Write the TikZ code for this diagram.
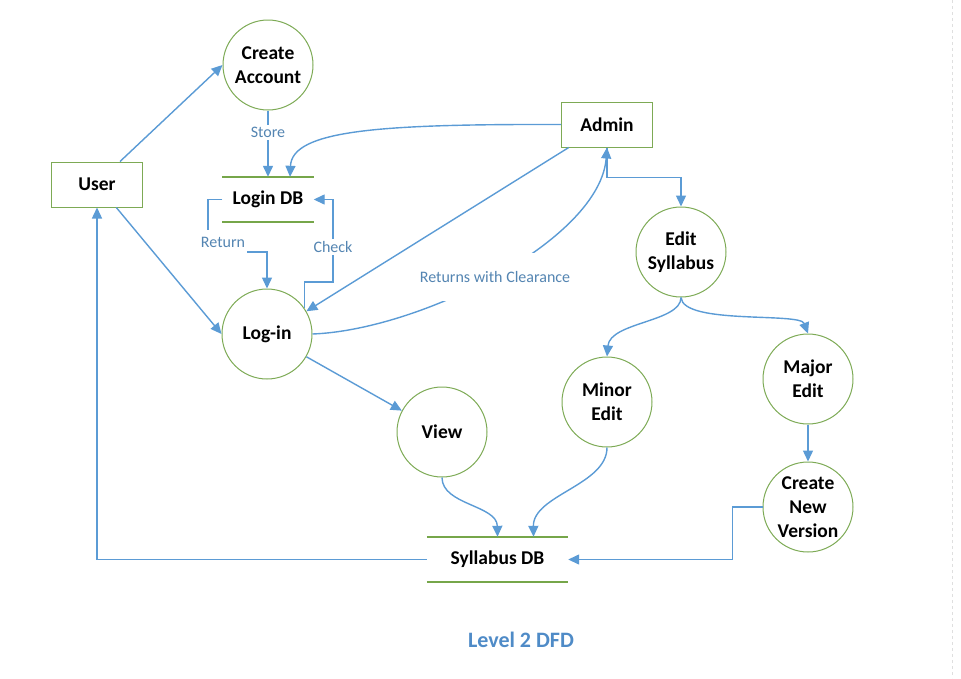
\documentclass[tikz,border=0pt]{standalone}
\usepackage{fontspec}
\setmainfont{Carlito}
\usetikzlibrary{arrows.meta}
\definecolor{flux}{RGB}{91,155,213}
\definecolor{bord}{RGB}{125,170,85}
\definecolor{vert}{RGB}{118,166,74}
\definecolor{etiq}{RGB}{84,133,178}
\definecolor{titre}{RGB}{79,139,199}
\begin{document}
\begin{tikzpicture}[x=1pt,y=-1pt]
  \tikzstyle{processus}=[circle, draw=bord, line width=1pt, align=center,
  text=black, font=\bfseries\fontsize{19.5}{24}\selectfont, minimum size=90pt, inner sep=0pt]
  \tikzstyle{entite}=[rectangle, draw=bord, line width=1pt, text=black,
  font=\bfseries\fontsize{19.5}{24}\selectfont, minimum width=91pt, minimum height=45pt]
  \tikzstyle{stock}=[rectangle, text=black, font=\bfseries\fontsize{19.5}{24}\selectfont,
  minimum height=45pt, inner sep=0pt]
  \tikzstyle{ligne}=[draw=vert, line width=2pt]
  \tikzstyle{fleche}=[-{Triangle[length=11pt,width=10pt]}, draw=flux, line width=1.4pt]
  \tikzstyle{etiquette}=[fill=white, text=etiq, font=\fontsize{16}{18}\selectfont, inner sep=2pt]
  \useasboundingbox (0,0) rectangle (961,678);
  \draw[gray!25, dashed] (952,0) -- (952,678);
  \foreach \n/\x/\y/\txt in {creer/268/65/{Create\\Account}, login/267/334/Log-in,
    vue/442/432/View, edition/681/252/{Edit\\Syllabus}, mineure/607/402/{Minor\\Edit},
    majeure/808/379/{Major\\Edit}, nouvelle/808/507/{Create\\New\\Version}} {
    \draw (\x,\y) node[processus] (\n) {\txt};
  }
  \foreach \n/\x/\y/\txt in {user/97/184.5/User, admin/607/124.5/Admin} {
    \draw (\x,\y) node[entite] (\n) {\txt};
  }
  \foreach \n/\x/\y/\w/\txt in {logindb/268/199.5/91/Login DB, syldb/497.5/559.5/141/Syllabus DB} {
    \draw (\x,\y) node[stock, minimum width=\w pt] (\n) {\txt};
    \draw[ligne] (\n.north west) -- (\n.north east) (\n.south west) -- (\n.south east);
  }
  \foreach \a/\b in {user.45/creer.west, user.-50/login.west, admin.211/login.30,
    login.-30/vue.152, majeure.south/nouvelle.north} {
    \draw[fleche] (\a) -- (\b);
  }
  \draw[fleche] (creer.south) -- (logindb.north) node[etiquette, pos=0.33] {Store};
  \draw[fleche] (admin.west) .. controls (380,124) and (292,130) .. ([xshift=22pt]logindb.north);
  \draw[fleche] (logindb.west) -| (208,252) -| (login.north);
  \node[etiquette, minimum height=24pt] at (223,242) {Return};
  \draw[fleche] (login.35) |- (333,282) |- (logindb.east);
  \node[etiquette] at (333,247) {Check};
  \draw[fleche] (login.east) .. controls (420,330) and (600,240) .. (admin.south);
  \node[etiquette, minimum height=48pt] at (495,277) {Returns with Clearance};
  \draw[fleche] (admin.south) -- ++(0,30) -| (edition.north);
  \draw[fleche] (edition.south) .. controls (681,322) and (610,322) .. (mineure.north);
  \draw[fleche] (edition.south) .. controls (683,325) and (800,312) .. (majeure.north);
  \draw[fleche] (nouvelle.west) -- ++(-30,0) |- (syldb.east);
  \draw[fleche] (vue.south) .. controls (442,505) and (497,505) .. (syldb.north);
  \draw[fleche] (mineure.south) .. controls (607,485) and (533,495) .. ([xshift=36pt]syldb.north);
  \draw[fleche] (syldb.west) -| (user.south);
  \node[text=titre, font=\bfseries\fontsize{22}{26}\selectfont] (titre) at (521,640) {Level 2 DFD};
\end{tikzpicture}
\end{document}
